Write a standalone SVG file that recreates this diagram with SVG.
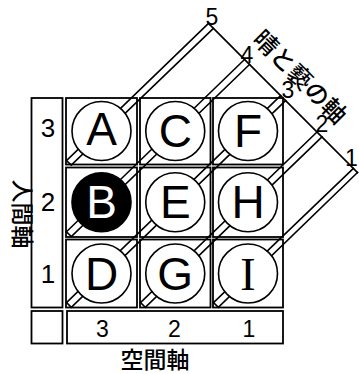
<svg xmlns="http://www.w3.org/2000/svg" width="359" height="374" viewBox="0 0 359 374">
<style>
.ln{stroke:#000;stroke-width:1.6;fill:none;stroke-linecap:square}
.box{stroke:#000;stroke-width:1.8;fill:none}
.cir{stroke:#000;stroke-width:1.6;fill:#fff}
.dark{fill:#000}
.let{font-family:"Liberation Sans",Arial,sans-serif;font-size:46px;text-anchor:middle;fill:#000}
.inv{fill:#fff}
.num{font-family:"Liberation Sans",Arial,sans-serif;text-anchor:middle;fill:#000}
.d{font-size:23px}
.r{font-size:26px}
.c{font-size:23px}
.jp{font-family:"Noto Sans CJK JP","Noto Sans CJK SC",sans-serif;fill:#000;text-anchor:middle;font-weight:500}
</style>
<rect width="359" height="374" fill="#fff"/>
<g id="connectors">
  <path id="strip5" class="ln" d="M66.5,160.7 L208.5,23.4 M71.3,165 L213.4,28.4 M66.5,160.7 L71.3,165"/>
  <path id="strip4" class="ln" d="M66.5,231.7 L244.5,59.5 M71.3,236.5 L249.5,64.5 M66.5,231.7 L71.3,236.5"/>
  <path id="strip3" class="ln" d="M66.5,302.5 L280.6,95.7 M71.3,307.3 L285.6,100.6 M66.5,302.5 L71.3,307.3"/>
  <path id="strip2" class="ln" d="M140.5,302.5 L317,132 M145.3,307.3 L322,136.9 M140.5,302.5 L145.3,307.3"/>
  <path id="strip1" class="ln" d="M213.5,302.5 L353.4,168.4 M218.3,307.3 L357.5,172.5 M213.5,302.5 L218.3,307.3"/>
  <path id="boundary" class="ln" d="M208.5,23.4 L357.5,172.5"/>
</g>
<g id="axis-labels">
  <text class="num d" x="212" y="25">5</text>
  <text class="num d" x="247" y="63">4</text>
  <text class="num d" x="288" y="98">3</text>
  <text class="num d" x="322" y="132">2</text>
  <text class="num d" x="345" y="166" style="text-anchor:start">1</text>
  <text class="jp" font-size="24" transform="translate(294,83) rotate(45)">晴と褻の軸</text>
  <text class="jp" font-size="23" transform="translate(14,214) rotate(90)">人間軸</text>
  <text class="jp" font-size="23" x="155" y="368">空間軸</text>
</g>
<g id="row-axis">
  <rect class="box" x="31.5" y="98" width="31" height="209.5"/>
  <text class="num r" x="48" y="137">3</text>
  <text class="num r" x="48" y="211">2</text>
  <text class="num r" x="48" y="283">1</text>
</g>
<g id="col-axis">
  <rect class="box" x="31.5" y="311" width="31" height="32.5"/>
  <rect class="box" x="67" y="311" width="216" height="32.5"/>
  <text class="num c" x="102.5" y="337">3</text>
  <text class="num c" x="174.5" y="337">2</text>
  <text class="num c" x="249" y="337">1</text>
</g>
<g id="node-A"><rect class="box" x="66" y="98" width="71" height="66.5"/><circle class="cir" cx="101.5" cy="131" r="29.5"/><text class="let" x="101.5" y="145">A</text></g>
<g id="node-C"><rect class="box" x="140" y="98" width="70.5" height="66.5"/><circle class="cir" cx="175.25" cy="131" r="29.5"/><text class="let" x="175.25" y="147">C</text></g>
<g id="node-F"><rect class="box" x="213" y="98" width="70" height="66.5"/><circle class="cir" cx="248" cy="131" r="29.5"/><text class="let" x="248" y="147">F</text></g>
<g id="node-B"><rect class="box" x="66" y="167.5" width="71" height="69.5"/><circle class="cir dark" cx="101.5" cy="202.25" r="29.5"/><text class="let inv" x="101.5" y="218">B</text></g>
<g id="node-E"><rect class="box" x="140" y="167.5" width="70.5" height="69.5"/><circle class="cir" cx="175.25" cy="202.25" r="29.5"/><text class="let" x="175.25" y="218">E</text></g>
<g id="node-H"><rect class="box" x="213" y="167.5" width="70" height="69.5"/><circle class="cir" cx="248" cy="202.25" r="29.5"/><text class="let" x="248" y="218">H</text></g>
<g id="node-D"><rect class="box" x="66" y="239.5" width="71" height="68"/><circle class="cir" cx="101.5" cy="273.5" r="29.5"/><text class="let" x="101.5" y="289.5">D</text></g>
<g id="node-G"><rect class="box" x="140" y="239.5" width="70.5" height="68"/><circle class="cir" cx="175.25" cy="273.5" r="29.5"/><text class="let" x="175.25" y="289.5">G</text></g>
<g id="node-I"><rect class="box" x="213" y="239.5" width="70" height="68"/><circle class="cir" cx="248" cy="273.5" r="29.5"/><text class="let" x="248" y="289.5" style="font-family:'Liberation Serif',serif">I</text></g>
</svg>
